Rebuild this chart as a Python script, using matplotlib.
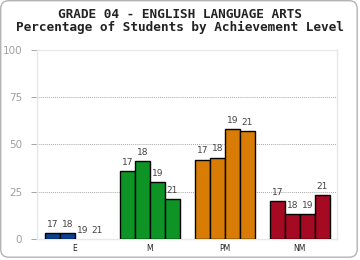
import numpy as np
import matplotlib
matplotlib.use('Agg')
import matplotlib.pyplot as plt
from matplotlib.patches import FancyBboxPatch
from matplotlib.transforms import IdentityTransform

categories = ['E', 'M', 'PM', 'NM']
years = ['17', '18', '19', '21']
values = {
    'E': [3, 3, 0, 0],
    'M': [36, 41, 30, 21],
    'PM': [42, 43, 58, 57],
    'NM': [20, 13, 13, 23],
}
colors = {'E': '#0b3f91', 'M': '#0e9424', 'PM': '#d97c06', 'NM': '#a50a22'}
yticks = [0, 25, 50, 75, 100]

fig = plt.figure(figsize=(3.6, 2.6), dpi=100)

# rounded frame (pixel coords), kept behind the axes
fig.patches.append(FancyBboxPatch((0.7, 2.8), 356.5, 256.5, boxstyle='round,pad=0,rounding_size=8',
                                  transform=IdentityTransform(), facecolor='white', edgecolor='#b4b4b4',
                                  lw=1.0, zorder=-9))

fig.text(0.5, 0.945, 'GRADE 04 - ENGLISH LANGUAGE ARTS', ha='center', va='center',
         family='DejaVu Sans Mono', weight='bold', fontsize=9.2, color='#222222')
fig.text(0.5, 0.895, 'Percentage of Students by Achievement Level', ha='center', va='center',
         family='DejaVu Sans Mono', weight='bold', fontsize=9.2, color='#222222')

ax = fig.add_axes([0.104, 0.081, 0.833, 0.727])
ax.set_zorder(5)
ax.set_facecolor('white')

width = 0.2
ind = np.arange(len(categories))
for i, cat in enumerate(categories):
    for j, yr in enumerate(years):
        x = ind[i] + (j - 1.5) * width
        v = values[cat][j]
        if v > 0:
            ax.bar(x, v, width, color=colors[cat], edgecolor='black', linewidth=1, zorder=3)
        ax.annotate(yr, (x, v), xytext=(0, 3), textcoords='offset points',
                    ha='center', va='bottom', fontsize=6.5, color='#444444', zorder=4)

ax.set_xlim(-0.5, 3.5)
ax.set_ylim(0, 100)
ax.set_xticks(ind)
ax.set_xticklabels(categories, fontsize=5.5, color='#222222')
ax.set_yticks(yticks)
ax.set_yticklabels([str(t) for t in yticks], fontsize=7.5, color='#a0a0a0')
ax.tick_params(axis='x', length=0, pad=4)
ax.tick_params(axis='y', length=4, color='#999999', width=0.6, pad=7)
for t in [25, 50, 75]:
    ax.axhline(t, color='#aaaaaa', linestyle=(0, (1, 1)), linewidth=0.7, zorder=1)
for s in ax.spines.values():
    s.set_color('#e8e8e8')
    s.set_linewidth(1)

fig.savefig('out.png', dpi=100)
